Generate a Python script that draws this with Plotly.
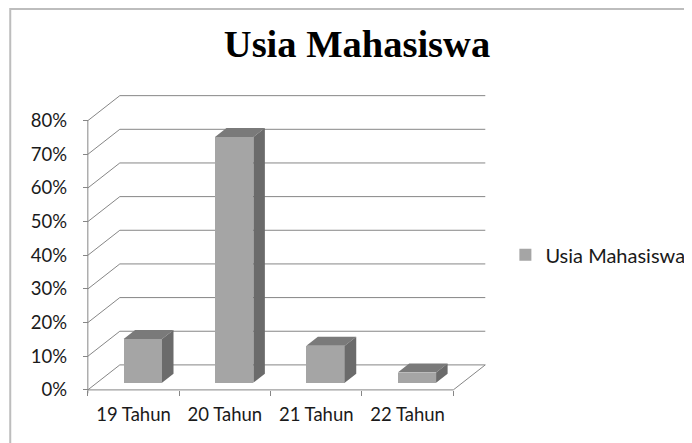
import plotly.graph_objects as go

# ---- data ----
categories = ["19 Tahun", "20 Tahun", "21 Tahun", "22 Tahun"]
values = [13, 73, 11, 3]          # percent
series_name = "Usia Mahasiswa"
y_ticks = [0, 10, 20, 30, 40, 50, 60, 70, 80]
y_tick_labels = [f"{t}%" for t in y_ticks]
title_text = "Usia Mahasiswa"

# ---- page / layout geometry (reference pixel positions) ----
OFF = 8                      # browser body margin
W, H = 692 - OFF, 443 - OFF  # figure size so that it fills the window
WX, WY = 0.35, 7.43          # back-wall offset (x in categories, y in %)
D_FRONT, D_DEPTH = 0.29, 0.36  # bar front position / depth as fraction of wall depth
BAR_W = 0.42
XR = [-0.75, 4.0]
YR = [-3, 90]

AXIS_X = 88 - OFF            # front vertical axis pixel x
FLOOR_Y = 390 - OFF          # front floor pixel y
px_per_x = 91.25
px_per_y = 3.3625
left_px = AXIS_X - (-0.5 - XR[0]) * px_per_x
right_px = AXIS_X + (XR[1] + 0.5) * px_per_x
bottom_px = FLOOR_Y - YR[0] * px_per_y
top_px = FLOOR_Y - YR[1] * px_per_y
ml, mr, mt, mb = left_px, W - right_px, top_px, H - bottom_px
pw, ph = right_px - left_px, bottom_px - top_px

def px_to_paper_x(px):
    return (px - OFF - left_px) / pw

def px_to_paper_y(py):
    return (bottom_px - (py - OFF)) / ph

grid_col = "#868686"
front_col = "#a5a5a5"
top_col = "#7a7a7a"
side_col = "#6b6b6b"

n = len(categories)
xs = list(range(n))
x_lo, x_hi = -0.5, n - 0.5

shapes = []
def line(x0, y0, x1, y1, color=grid_col, width=1):
    shapes.append(dict(type="line", xref="x", yref="y", x0=x0, y0=y0, x1=x1, y1=y1,
                       line=dict(color=color, width=width), layer="below"))

for t in y_ticks:
    line(x_lo + WX, t + WY, x_hi + WX, t + WY)      # back-wall gridline
    line(x_lo, t, x_lo + WX, t + WY)                # side-wall diagonal
line(x_lo, -1, x_lo, y_ticks[-1])                   # front vertical axis
line(x_lo, 0, x_hi, 0)                              # floor front edge
line(x_hi, 0, x_hi + WX, WY)                        # floor right edge

# chart border (top + left visible)
shapes.append(dict(type="rect", xref="paper", yref="paper",
                   x0=px_to_paper_x(10.5), x1=px_to_paper_x(692 + 20),
                   y0=px_to_paper_y(443 + 20), y1=px_to_paper_y(OFF + 1.5),
                   line=dict(color="#bdbdbd", width=2), layer="below"))

fdx, fdy = D_FRONT * WX, D_FRONT * WY
ddx, ddy = D_DEPTH * WX, D_DEPTH * WY

fig = go.Figure()
fig.add_trace(go.Bar(
    x=[x + fdx for x in xs], y=values, base=[fdy] * n, width=BAR_W,
    marker=dict(color=front_col, line=dict(width=0)),
    name=series_name, showlegend=True, hoverinfo="skip"))

top_x, top_y, side_x, side_y = [], [], [], []
for x, v in zip(xs, values):
    x0 = x + fdx - BAR_W / 2
    x1 = x + fdx + BAR_W / 2
    yt = fdy + v
    top_x += [x0, x1, x1 + ddx, x0 + ddx, x0, None]
    top_y += [yt, yt, yt + ddy, yt + ddy, yt, None]
    side_x += [x1, x1, x1 + ddx, x1 + ddx, x1, None]
    side_y += [fdy, yt, yt + ddy, fdy + ddy, fdy, None]

fig.add_trace(go.Scatter(x=top_x, y=top_y, mode="lines", fill="toself",
                         fillcolor=top_col, line=dict(width=0, color=top_col),
                         showlegend=False, hoverinfo="skip"))
fig.add_trace(go.Scatter(x=side_x, y=side_y, mode="lines", fill="toself",
                         fillcolor=side_col, line=dict(width=0, color=side_col),
                         showlegend=False, hoverinfo="skip"))

tick_font = dict(family="Lato, 'DejaVu Sans', sans-serif", size=18.5, color="#1a1a1a")

fig.update_layout(
    width=W, height=H,
    margin=dict(l=ml, r=mr, t=mt, b=mb, pad=0, autoexpand=False),
    paper_bgcolor="white", plot_bgcolor="white",
    title=dict(text=f"<b>{title_text}</b>", x=(357 - OFF) / W, xanchor="center",
               y=1 - (44 - OFF) / H, yanchor="middle",
               font=dict(family="'Liberation Serif', 'Times New Roman', serif", size=38.5, color="black")),
    xaxis=dict(range=XR, anchor="free", position=px_to_paper_y(390),
               tickmode="array", tickvals=xs, ticktext=categories, ticks="",
               showgrid=False, zeroline=False, showline=False, tickfont=tick_font,
               ticklabelstandoff=12, automargin=False,
               minor=dict(tickmode="array", tickvals=[x_lo + i for i in range(n + 1)],
                          ticks="outside", ticklen=5, tickcolor=grid_col, showgrid=False)),
    yaxis=dict(range=YR, anchor="free", position=px_to_paper_x(88),
               tickmode="array", tickvals=y_ticks, ticktext=y_tick_labels,
               ticks="outside", ticklen=5, tickcolor=grid_col,
               showgrid=False, zeroline=False, showline=False, tickfont=tick_font,
               ticklabelstandoff=12, automargin=False),
    legend=dict(x=px_to_paper_x(505), xanchor="left", y=px_to_paper_y(255), yanchor="middle",
                font=dict(family="Lato, 'DejaVu Sans', sans-serif", size=20, color="#1a1a1a"),
                bgcolor="rgba(0,0,0,0)"),
    shapes=shapes,
    bargap=0,
)

fig.write_html("out.html")
